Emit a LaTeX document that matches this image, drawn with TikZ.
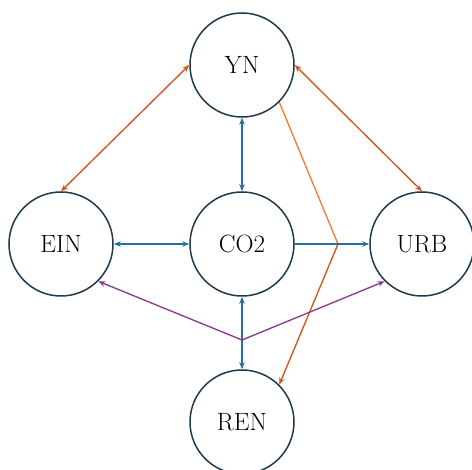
\documentclass[tikz,border=0pt]{standalone}
\usetikzlibrary{arrows.meta}
\definecolor{ringc}{HTML}{1E3A4C}
\definecolor{linkblue}{HTML}{23709A}
\definecolor{linkred}{HTML}{D4541E}
\definecolor{linkorange}{HTML}{F07E36}
\definecolor{linkpurple}{HTML}{8B3A8F}
\tikzset{
  var/.style={circle, draw=ringc, line width=1.5pt, fill=white,
    minimum size=104pt, inner sep=0pt, font=\fontsize{25}{30}\selectfont},
  link/.style={line width=1.35pt},
  tip/.style={-{Stealth[length=7pt,width=5.5pt]}},
  twotip/.style={{Stealth[length=7pt,width=5.5pt]}-{Stealth[length=7pt,width=5.5pt]}}
}
\begin{document}
\begin{tikzpicture}[x=1pt,y=-1pt]
  \useasboundingbox (0,0) rectangle (472,470);

  % variables
  \node[var] (yn)  at (242,65)  {YN};
  \node[var] (ein) at (61,244)  {EIN};
  \node[var] (co2) at (242,244) {CO2};
  \node[var] (urb) at (422,244) {URB};
  \node[var] (ren) at (242,422) {REN};

  % junction points
  \coordinate (jr) at (338,244);
  \coordinate (jb) at (242,340);

  % income links
  \draw[link, twotip, linkred] (yn.west) -- (ein.north);
  \draw[link, twotip, linkred] (yn.east) -- (urb.north);
  \draw[link, linkorange] (yn.south east) -- (jr);
  \draw[link, tip, linkred] (jr) -- (ren.north east);

  % emission links
  \draw[link, twotip, linkblue] (yn.south) -- (co2.north);
  \draw[link, twotip, linkblue] (ein.east) -- (co2.west);
  \draw[link, tip, linkblue] (co2.east) -- (urb.west);
  \draw[link, twotip, linkblue] (co2.south) -- (ren.north);

  % renewable-energy links
  \draw[link, tip, linkpurple] (jb) -- (ein.south east);
  \draw[link, tip, linkpurple] (jb) -- (urb.south west);
\end{tikzpicture}
\end{document}
